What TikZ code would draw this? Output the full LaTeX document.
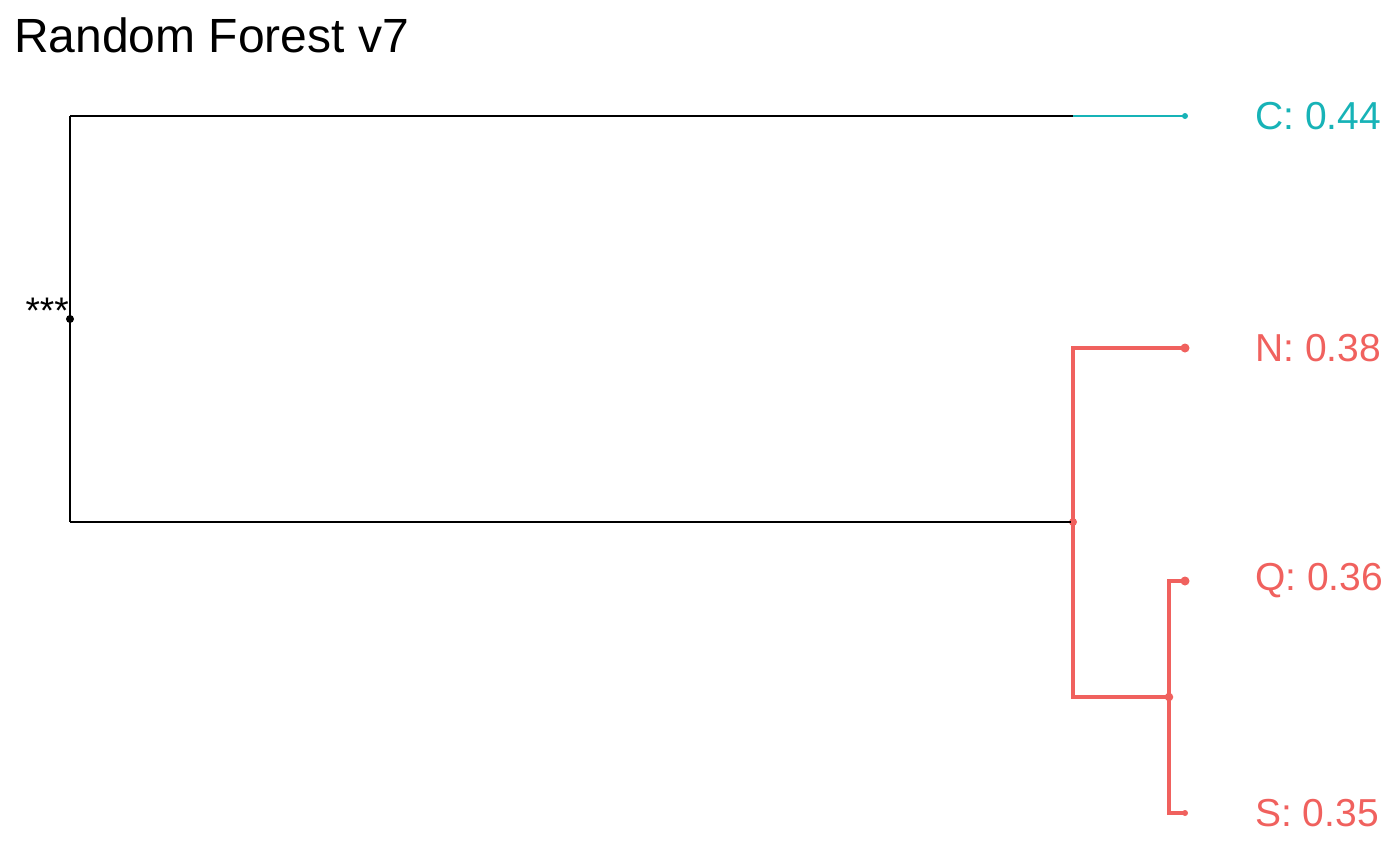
\documentclass[tikz,border=0pt]{standalone}
\usepackage{fontspec}
\setmainfont{Liberation Sans}
\definecolor{tred}{HTML}{F0615E}
\definecolor{tteal}{HTML}{17B3B7}
\begin{document}
\begin{tikzpicture}[x=1pt,y=-1pt,
  blk/.style={black,line width=2.8pt},
  redl/.style={tred,line width=3.8pt,line join=miter},
  teall/.style={tteal,line width=2.2pt},
  dotn/.style={circle,fill,inner sep=0pt,minimum size=#1},
  lab/.style={anchor=west,font=\fontsize{39}{39}\selectfont,inner sep=0pt}]
\useasboundingbox (0,0) rectangle (1400,865);
\node[anchor=west,inner sep=0pt,font=\fontsize{48}{48}\selectfont] (title) at (14,35) {Random Forest v7};
% junctions
\node[dotn=8pt,black] (root) at (70,319) {};
\coordinate (rtop) at (70,116);
\coordinate (rbot) at (70,522);
\coordinate (csplit) at (1073,116);
\node[dotn=8pt,tred] (nr) at (1073,522) {};
\coordinate (nrtop) at (1073,348);
\coordinate (nrbot) at (1073,697);
\node[dotn=8.5pt,tred] (nqs) at (1169,697) {};
\coordinate (nqstop) at (1169,581);
\coordinate (nqsbot) at (1169,813);
% tips
\node[dotn=6pt,tteal] (tc) at (1185,116) {};
\node[dotn=9pt,tred] (tn) at (1185,348) {};
\node[dotn=9pt,tred] (tq) at (1185,581) {};
\node[dotn=6pt,tred] (ts) at (1185,813) {};
% edges
\draw[blk] (rtop) -- (rbot);
\draw[blk] (rtop) -- (csplit);
\draw[blk] (rbot) -- (nr.center);
\draw[teall] (csplit) -- (tc.center);
\draw[redl] (tn.center) -- (nrtop) -- (nrbot) -- (nqs.center);
\draw[redl] (tq.center) -- (nqstop) -- (nqsbot) -- (ts.center);
% labels
\node[anchor=south east,inner sep=0pt,font=\fontsize{37}{37}\selectfont] (stars) at (69,324) {***};
\node[lab,tteal] (lc) at (1255,116) {C: 0.44};
\node[lab,tred] (ln) at (1255,348) {N: 0.38};
\node[lab,tred] (lq) at (1255,581) {Q: 0.36};
\node[lab,tred] (ls) at (1255,813) {S: 0.35};
\end{tikzpicture}
\end{document}
